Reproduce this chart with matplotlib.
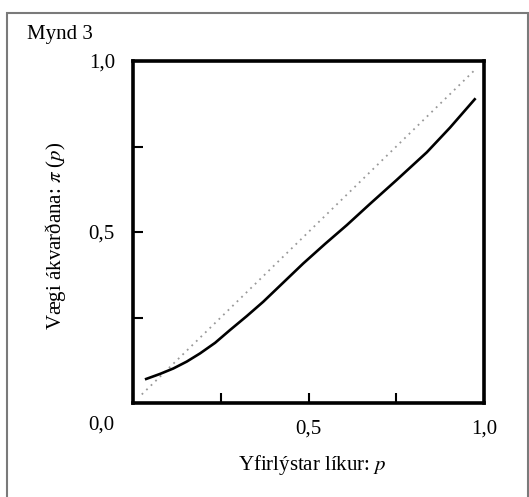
import numpy as np
import matplotlib.pyplot as plt
from matplotlib.patches import Rectangle

plt.rcParams['font.family'] = ['Liberation Serif', 'DejaVu Serif']
plt.rcParams['mathtext.fontset'] = 'stix'

# lesið af myndinni
p = [0.034, 0.077, 0.115, 0.153, 0.191, 0.234, 0.276, 0.324, 0.371, 0.428,
     0.485, 0.547, 0.609, 0.675, 0.751, 0.837, 0.903, 0.976]
pi_p = [0.069, 0.085, 0.101, 0.121, 0.145, 0.176, 0.213, 0.254, 0.296, 0.352,
        0.408, 0.465, 0.520, 0.582, 0.652, 0.733, 0.805, 0.891]
diag = [0.025, 0.972]

xticks = [0, 0.25, 0.5, 0.75, 1.0]
xticklabels = ['', '', '0,5', '', '1,0']
yticks = [0.25, 0.5, 0.75, 1.0]
yticklabels = ['', '0,5', '', '1,0']

fig = plt.figure(figsize=(5.29, 4.97), dpi=100)
ax = fig.add_axes([133/529, 94/497, 351/529, 342/497])

ax.plot(diag, diag, color='#999999', lw=1.3, linestyle=(0, (1, 2.5)))
ax.plot(p, pi_p, color='black', lw=1.9, solid_capstyle='butt',
        solid_joinstyle='round')

ax.set_xlim(0, 1)
ax.set_ylim(0, 1)
for s in ax.spines.values():
    s.set_linewidth(2.6)

ax.set_xticks(xticks)
ax.set_xticklabels(xticklabels, fontsize=15)
ax.set_yticks(yticks)
ax.set_yticklabels(yticklabels, fontsize=15)
ax.tick_params(direction='in', length=7.5, width=1.5)
ax.tick_params(axis='x', pad=12)
ax.tick_params(axis='y', pad=13)

ax.text(-0.09, -0.065, '0,0', transform=ax.transAxes, fontsize=15,
        ha='center', va='center')

fig.text(312/529, 1 - 465/497, 'Yfirlýstar líkur: $p$', fontsize=15,
         ha='center', va='center')
fig.text(55/529, 1 - 236/497, 'Vægi ákvarðana: $\\pi$ ($p$)', fontsize=15,
         ha='center', va='center', rotation=90)
fig.text(27/529, 1 - 35/497, 'Mynd 3', fontsize=15, ha='left', va='center')

fig.add_artist(Rectangle((7/529, -0.05), 521/529, 1.05 - 12.7/497,
                         transform=fig.transFigure, fill=False,
                         edgecolor='#7a7a7a', lw=1.5))

fig.savefig('out.png', dpi=100)
